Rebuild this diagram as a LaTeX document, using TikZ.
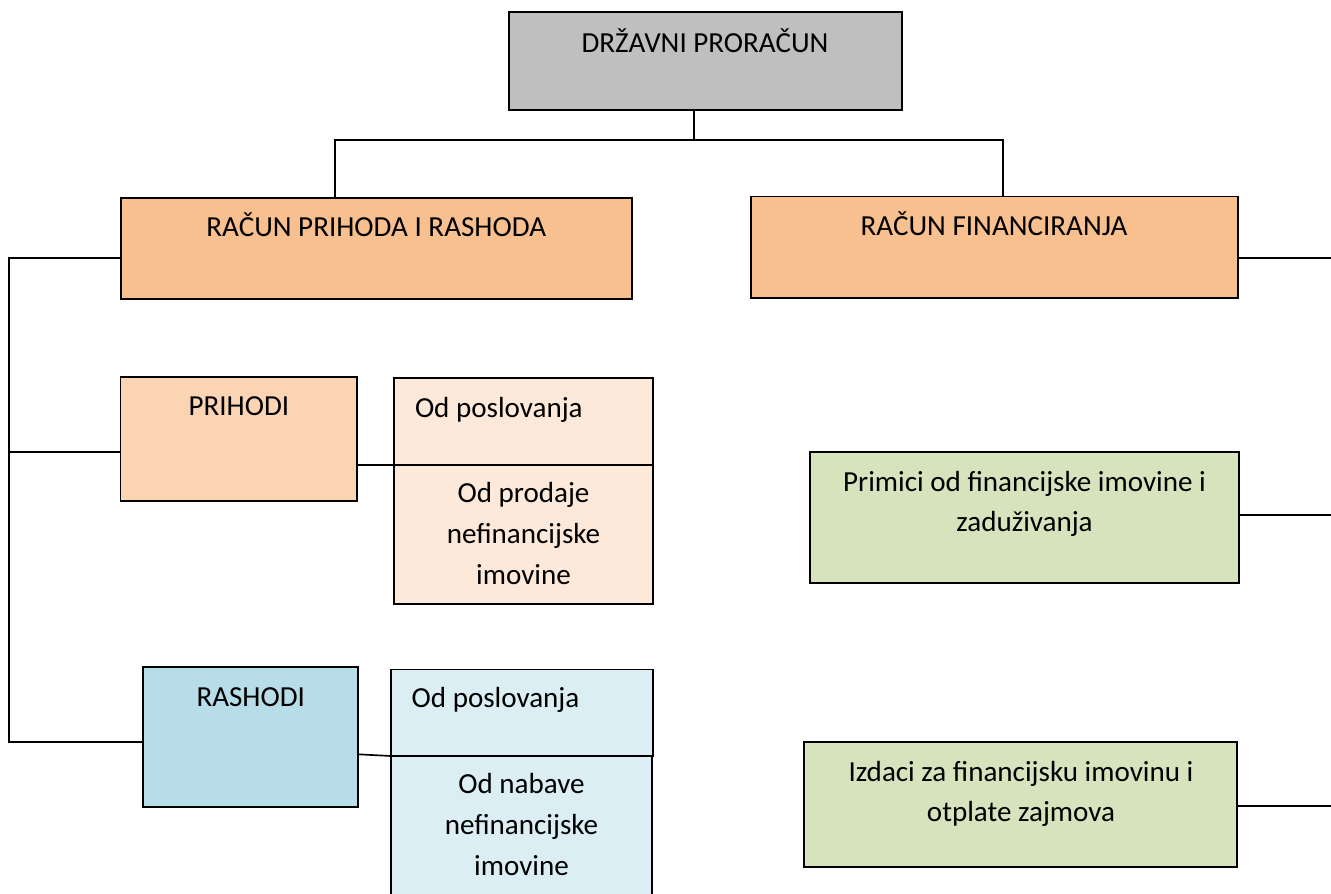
\documentclass[tikz,border=0pt]{standalone}
\usepackage{fontspec}
\setmainfont{Carlito}
\definecolor{cgray}{HTML}{BFBFBF}
\definecolor{corange}{HTML}{F8BF8F}
\definecolor{clorange}{HTML}{FBD4B4}
\definecolor{cpeach}{HTML}{FDE9D9}
\definecolor{cblue}{HTML}{B6DDE8}
\definecolor{clblue}{HTML}{DAEEF3}
\definecolor{cgreen}{HTML}{D7E3BC}
\tikzset{
  box/.style={draw=black, line width=1.3pt, rectangle, inner sep=0pt, outer sep=0pt},
  txt/.style={inner sep=0pt, outer sep=0pt, font=\fontsize{21.8}{30}\selectfont},
  conn/.style={draw=black, line width=1.25pt},
}
\begin{document}
\begin{tikzpicture}[x=0.75pt,y=-0.75pt]
\useasboundingbox (0,0) rectangle (1331,893);
\clip (0,0) rectangle (1331,893);
\fill[white] (0,0) rectangle (1331,893);

% boxes
\node[box, fill=cgray, minimum width=294.75pt, minimum height=73.5pt] (top) at (705.5,61) {};
\node[box, fill=corange, minimum width=383.25pt, minimum height=75.5pt] (rpr) at (376.2,248.65) {};
\node[box, fill=corange, minimum width=365.25pt, minimum height=76.35pt] (rf) at (994.5,247.4) {};
\node[box, fill=clorange, minimum width=177.6pt, minimum height=93pt] (prih) at (238.9,438.7) {};
\node[box, fill=cpeach, minimum width=194.5pt, minimum height=104.25pt] (opr) at (523.65,534.5) {};
\node[box, fill=cpeach, minimum width=194.5pt, minimum height=65pt] (op1) at (523.65,421.65) {};
\node[box, fill=cblue, minimum width=161.25pt, minimum height=105pt] (rash) at (250.8,736.7) {};
\node[box, fill=clblue, minimum width=195.75pt, minimum height=111.75pt] (on) at (521.5,830.5) {};
\node[box, fill=clblue, minimum width=196.7pt, minimum height=64.9pt] (op2) at (522.15,712.75) {};
\node[box, fill=cgreen, minimum width=321.75pt, minimum height=97.8pt] (prim) at (1024.5,517.5) {};
\node[box, fill=cgreen, minimum width=325pt, minimum height=93.3pt] (izd) at (1020.65,804.5) {};

% texts
\node[txt, anchor=base] (ttop) at (705,52) {DRŽAVNI PRORAČUN};
\node[txt, anchor=base] (trpr) at (376.2,236.7) {RAČUN PRIHODA I RASHODA};
\node[txt, anchor=base] (trf) at (994,235) {RAČUN FINANCIRANJA};
\node[txt, anchor=base] (tprih) at (238.9,415.7) {PRIHODI};
\node[txt, anchor=base west] (top1) at (415,417) {Od poslovanja};
\node[txt, anchor=base] (topra) at (523.5,502.5) {Od prodaje};
\node[txt, anchor=base] (toprb) at (523.5,543.5) {nefinancijske};
\node[txt, anchor=base] (toprc) at (523.5,584.5) {imovine};
\node[txt, anchor=base] (trash) at (250.8,706) {RASHODI};
\node[txt, anchor=base west] (top2) at (411.7,707.3) {Od poslovanja};
\node[txt, anchor=base] (tona) at (521.5,793) {Od nabave};
\node[txt, anchor=base] (tonb) at (521.5,834) {nefinancijske};
\node[txt, anchor=base] (tonc) at (521.5,875) {imovine};
\node[txt, anchor=base] (tprima) at (1024.5,491) {Primici od financijske imovine i};
\node[txt, anchor=base] (tprimb) at (1024.5,531.7) {zaduživanja};
\node[txt, anchor=base] (tizda) at (1021,781.7) {Izdaci za financijsku imovinu i};
\node[txt, anchor=base] (tizdb) at (1021,821.7) {otplate zajmova};

% connector points
\coordinate (busM) at (694,140);
\coordinate (busL) at (335,140);
\coordinate (busR) at (1003,140);
\coordinate (spT) at (8.7,258.3);
\coordinate (spP) at (8.7,452.3);
\coordinate (spB) at (8.7,742.3);
\coordinate (rfR) at (1331,258.3);
\coordinate (primR) at (1331,515);
\coordinate (izdR) at (1331,805.7);

% connectors
\draw[conn] (top.south -| busM) -- (busM);
\draw[conn] (rpr.north -| busL) -- (busL) -- (busR) -- (rf.north -| busR);
\draw[conn] (rpr.west |- spT) -- (spT) -- (spB) -- (rash.west |- spB);
\draw[conn] (spP) -- (prih.west |- spP);
\draw[conn] (prih.east |- opr.north west) -- (opr.north west);
\draw[conn] ([yshift=-13.2pt]rash.east) -- (on.north west);
\draw[conn] (rf.east |- rfR) -- (rfR);
\draw[conn] (prim.east |- primR) -- (primR);
\draw[conn] (izd.east |- izdR) -- (izdR);
\end{tikzpicture}
\end{document}
